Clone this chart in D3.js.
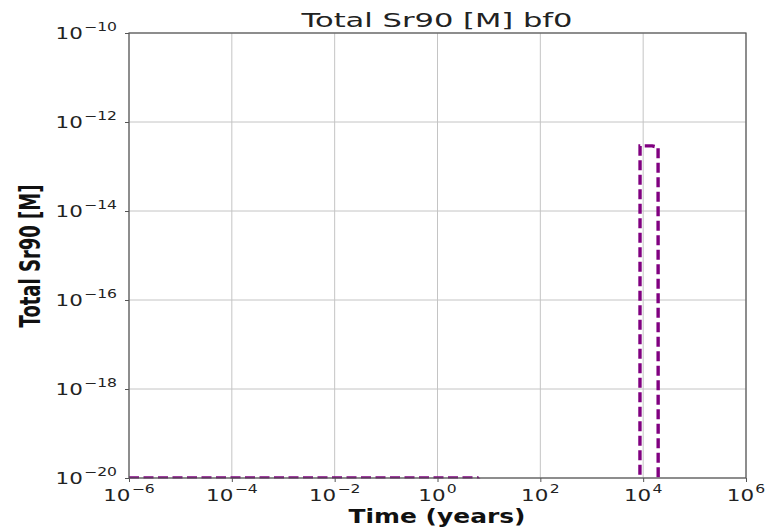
<!DOCTYPE html>
<html><head><meta charset="utf-8">
<script src="https://cdn.jsdelivr.net/npm/d3@7"></script>
<style>body{margin:0;background:#fff;} svg{display:block;}</style>
</head><body>
<script>
// ---- data ----
const times = [1e-6, 1e-3, 1, 6, 10, 100, 8600, 8700, 1.5e4, 1.95e4, 1.97e4, 1e6];
const conc  = [1e-20, 1e-20, 1e-20, 1e-20, 5e-21, 1e-30, 1e-30, 2.9e-13, 2.9e-13, 2.7e-13, 1e-30, 1e-30];
const xTickExps = [-6, -4, -2, 0, 2, 4, 6];
const yTickExps = [-20, -18, -16, -14, -12, -10];
const title = "Total Sr90 [M] bf0";
const xLabel = "Time (years)";
const yLabel = "Total Sr90 [M]";

const W = 776, H = 529;
const m = {left: 129, right: 30, top: 33, bottom: 51};
const pw = W - m.left - m.right, ph = H - m.top - m.bottom;

const svg = d3.select("body").append("svg").attr("width", W).attr("height", H);
const x = d3.scaleLog().domain([1e-6, 1e6]).range([m.left, m.left + pw]);
const y = d3.scaleLog().domain([1e-20, 1e-10]).range([m.top + ph, m.top]);

const font = "'DejaVu Sans', sans-serif";

// grid
const g = svg.append("g");
g.selectAll(".gx").data(xTickExps).join("line")
  .attr("x1", d => x(Math.pow(10, d))).attr("x2", d => x(Math.pow(10, d)))
  .attr("y1", m.top).attr("y2", m.top + ph)
  .attr("stroke", "#c4c4c4").attr("stroke-width", 1);
g.selectAll(".gy").data(yTickExps).join("line")
  .attr("y1", d => y(Math.pow(10, d))).attr("y2", d => y(Math.pow(10, d)))
  .attr("x1", m.left).attr("x2", m.left + pw)
  .attr("stroke", "#c4c4c4").attr("stroke-width", 1);

// clip
svg.append("clipPath").attr("id", "clip").append("rect")
  .attr("x", m.left).attr("y", m.top).attr("width", pw).attr("height", ph + 0.5);

const pts = times.map((t, i) => [t, conc[i]]);
const line = d3.line().x(d => x(d[0])).y(d => y(d[1]));
svg.append("path").attr("clip-path", "url(#clip)")
  .attr("d", line(pts)).attr("fill", "none")
  .attr("stroke", "#800080").attr("stroke-width", 3.4)
  .attr("stroke-dasharray", "10,4.5").attr("stroke-linejoin", "miter");

// frame
svg.append("rect").attr("x", m.left).attr("y", m.top).attr("width", pw).attr("height", ph)
  .attr("fill", "none").attr("stroke", "#555").attr("stroke-width", 1.2);

// axes ticks
const xAxis = d3.axisBottom(x).tickValues(xTickExps.map(e => Math.pow(10, e))).tickSize(4).tickFormat("");
const yAxis = d3.axisLeft(y).tickValues(yTickExps.map(e => Math.pow(10, e))).tickSize(4).tickFormat("");
svg.append("g").attr("transform", `translate(0,${m.top + ph})`).call(xAxis)
  .call(s => { s.select(".domain").remove(); s.selectAll("line").attr("stroke", "#555"); });
svg.append("g").attr("transform", `translate(${m.left},0)`).call(yAxis)
  .call(s => { s.select(".domain").remove(); s.selectAll("line").attr("stroke", "#555"); });

function powLabel(sel, exp, px, py, anchor, sup) {
  const t = sel.append("text")
    .attr("transform", `translate(${px},${py}) scale(1.3,1)`)
    .attr("text-anchor", anchor)
    .attr("font-family", font).attr("fill", "#222");
  t.append("tspan").attr("font-size", 16.5).text("10");
  t.append("tspan").attr("font-size", 12).attr("dx", 1).attr("dy", sup).text((exp < 0 ? "\u2212" : "") + Math.abs(exp));
}
xTickExps.forEach(e => powLabel(svg, e, x(Math.pow(10, e)), 501, "middle", -8));
yTickExps.forEach(e => powLabel(svg, e, 117, y(Math.pow(10, e)) + 6, "end", -8));

// title
svg.append("text").attr("x", 437).attr("y", 27).attr("text-anchor", "middle")
  .attr("font-family", font).attr("font-size", 20).attr("fill", "#222")
  .attr("textLength", 271).attr("lengthAdjust", "spacingAndGlyphs").text(title);
// x label
svg.append("text").attr("x", 437).attr("y", 523).attr("text-anchor", "middle")
  .attr("font-family", font).attr("font-weight", "bold").attr("font-size", 20).attr("fill", "#111")
  .attr("textLength", 177).attr("lengthAdjust", "spacingAndGlyphs").text(xLabel);
// y label
svg.append("text").attr("transform", `translate(40,256) rotate(-90) scale(1,1.45)`)
  .attr("text-anchor", "middle")
  .attr("font-family", font).attr("font-weight", "bold").attr("font-size", 20).attr("fill", "#111")
  .attr("textLength", 143).attr("lengthAdjust", "spacingAndGlyphs").text(yLabel);
</script>
</body></html>
